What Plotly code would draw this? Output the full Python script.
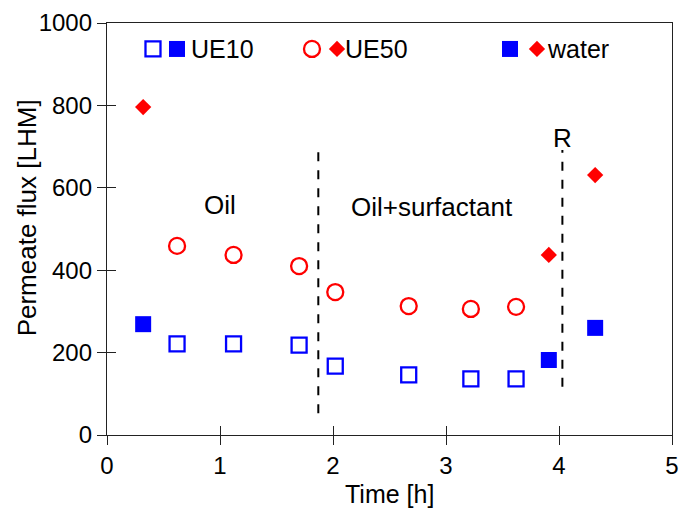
import plotly.graph_objects as go

# UE10 (open squares) and water points (filled squares)
ue10_t = [0.62, 1.12, 1.70, 2.02, 2.67, 3.22, 3.62]
ue10_flux = [221, 221, 218, 167, 146, 136, 136]
ue10_water_t = [0.32, 3.91, 4.32]
ue10_water_flux = [269, 182, 260]

# UE50 (open circles) and water points (filled diamonds)
ue50_t = [0.62, 1.12, 1.70, 2.02, 2.67, 3.22, 3.62]
ue50_flux = [459, 437, 410, 347, 313, 306, 311]
ue50_water_t = [0.32, 3.91, 4.32]
ue50_water_flux = [796, 437, 631]

# phase dividers
div1_x = [1.87, 1.87]
div1_y = [53, 700]
div2_x = [4.03, 4.03]
div2_y = [117, 692]

labels = ["Oil", "Oil+surfactant", "R"]
label_x = [1.0, 2.88, 4.03]
label_y = [558, 553, 721]

legend_names = ["UE10", "UE50", "water"]

x_title = "Time [h]"
y_title = "Permeate flux [LHM]"

BLUE = "#0000ff"
RED = "#ff0000"
FONT = "Liberation Sans, Arial, sans-serif"

sq_open = dict(symbol="square-open", size=15, color=BLUE, line=dict(width=2.3, color=BLUE))
sq_fill = dict(symbol="square", size=16, color=BLUE)
ci_open = dict(symbol="circle-open", size=16, color=RED, line=dict(width=2.3, color=RED))
di_fill = dict(symbol="diamond", size=12.5, color=RED)

fig = go.Figure()

fig.add_trace(go.Scatter(x=div1_x, y=div1_y, mode="lines",
                         line=dict(color="black", width=2, dash="dash"), showlegend=False))
fig.add_trace(go.Scatter(x=div2_x, y=div2_y, mode="lines",
                         line=dict(color="black", width=2, dash="dash"), showlegend=False))

fig.add_trace(go.Scatter(x=ue10_t, y=ue10_flux, mode="markers", marker=sq_open, showlegend=False))
fig.add_trace(go.Scatter(x=ue10_water_t, y=ue10_water_flux, mode="markers", marker=sq_fill, showlegend=False))
fig.add_trace(go.Scatter(x=ue50_t, y=ue50_flux, mode="markers", marker=ci_open, showlegend=False))
fig.add_trace(go.Scatter(x=ue50_water_t, y=ue50_water_flux, mode="markers", marker=di_fill, showlegend=False))

# invisible trace to anchor the overlay axes (inside ticks)
fig.add_trace(go.Scatter(x=[None], y=[None], xaxis="x2", yaxis="y2", showlegend=False))

# legend key markers on a hidden 0..1 axis pair
LEG_Y = 0.937
legend_keys = [
    (0.0814, sq_open), (0.1239, sq_fill),
    (0.3628, ci_open), (0.4071, di_fill),
    (0.7133, sq_fill), (0.761, di_fill),
]
for xp, mk in legend_keys:
    fig.add_trace(go.Scatter(x=[xp], y=[LEG_Y], mode="markers", marker=mk,
                             xaxis="x3", yaxis="y3", showlegend=False, hoverinfo="skip"))
legend_text_x = [0.146, 0.417, 0.775]
for name, xp in zip(legend_names, legend_text_x):
    fig.add_annotation(x=xp, y=LEG_Y, xref="paper", yref="paper", xanchor="left", yanchor="middle",
                       text=name, showarrow=False, font=dict(family=FONT, size=25, color="black"))

for t, x, y in zip(labels, label_x, label_y):
    fig.add_annotation(x=x, y=y, text=t, showarrow=False,
                       font=dict(family=FONT, size=26, color="black"))

# axis titles
fig.add_annotation(x=0.5, y=-0.142, xref="paper", yref="paper", xanchor="center", yanchor="middle",
                   text=x_title, showarrow=False, font=dict(family=FONT, size=25, color="black"))
fig.add_annotation(x=-0.14, y=0.528, xref="paper", yref="paper", xanchor="center", yanchor="middle",
                   text=y_title, textangle=-90, showarrow=False, font=dict(family=FONT, size=26, color="black"))

axis_common = dict(showgrid=False, zeroline=False)
fig.update_layout(
    width=679, height=510,
    margin=dict(l=107, r=7, t=23, b=75),
    paper_bgcolor="white", plot_bgcolor="white",
    font=dict(family=FONT, size=24, color="black"),
    xaxis=dict(range=[0, 5], tickvals=[0, 1, 2, 3, 4, 5], ticks="outside", ticklen=9, tickwidth=1.3,
               tickcolor="#222", showline=True, linecolor="#222", linewidth=1.3, mirror=True,
               automargin=False, tickfont=dict(size=24), **axis_common),
    yaxis=dict(range=[0, 1000], tickvals=[0, 200, 400, 600, 800, 1000], ticks="outside", ticklen=9,
               tickwidth=1.3, tickcolor="#222", showline=True, linecolor="#222", linewidth=1.3, mirror=True,
               automargin=False, tickfont=dict(size=24), **axis_common),
    xaxis2=dict(overlaying="x", range=[0, 5], tickvals=[0, 1, 2, 3, 4, 5], ticks="inside", ticklen=9,
                tickwidth=1.3, tickcolor="#222", showticklabels=False, showline=False, **axis_common),
    yaxis2=dict(overlaying="y", range=[0, 1000], tickvals=[0, 200, 400, 600, 800, 1000], ticks="inside",
                ticklen=9, tickwidth=1.3, tickcolor="#222", showticklabels=False, showline=False, **axis_common),
    xaxis3=dict(overlaying="x", range=[0, 1], visible=False, **axis_common),
    yaxis3=dict(overlaying="y", range=[0, 1], visible=False, **axis_common),
)

fig.write_html("out.html")
